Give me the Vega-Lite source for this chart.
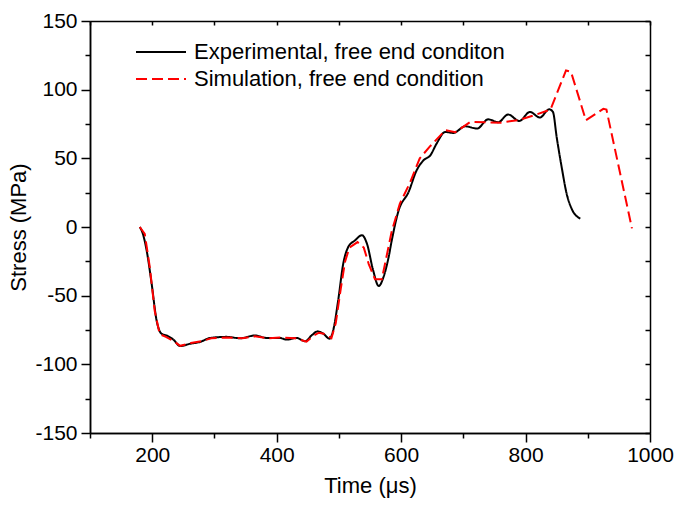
{
  "$schema": "https://vega.github.io/schema/vega-lite/v6.json",
  "width": 560,
  "height": 412,
  "autosize": {"type": "none"},
  "padding": {"left": 90, "top": 21, "right": 26, "bottom": 74},
  "background": "white",
  "config": {
    "view": {"stroke": null},
    "font": "Liberation Sans",
    "axis": {
      "grid": false,
      "domainColor": "black",
      "domainWidth": 1.5,
      "tickColor": "black",
      "tickWidth": 1.5,
      "labelColor": "black",
      "labelFontSize": 21,
      "labelFont": "Liberation Sans",
      "titleFont": "Liberation Sans",
      "titleFontSize": 22,
      "titleFontWeight": "normal",
      "titleColor": "black"
    },
    "legend": {
      "labelFont": "Liberation Sans",
      "labelFontSize": 22,
      "labelColor": "black",
      "labelLimit": 0
    }
  },
  "datasets": {
    "exp": [
      {"time": 180, "stress": 0, "series": "Experimental, free end conditon"},
      {"time": 185, "stress": -5, "series": "Experimental, free end conditon"},
      {"time": 191, "stress": -17, "series": "Experimental, free end conditon"},
      {"time": 199, "stress": -41, "series": "Experimental, free end conditon"},
      {"time": 207, "stress": -68, "series": "Experimental, free end conditon"},
      {"time": 215, "stress": -77.7, "series": "Experimental, free end conditon"},
      {"time": 223, "stress": -79, "series": "Experimental, free end conditon"},
      {"time": 234, "stress": -82, "series": "Experimental, free end conditon"},
      {"time": 245, "stress": -86.7, "series": "Experimental, free end conditon"},
      {"time": 261, "stress": -85, "series": "Experimental, free end conditon"},
      {"time": 277, "stress": -83.7, "series": "Experimental, free end conditon"},
      {"time": 293, "stress": -80.8, "series": "Experimental, free end conditon"},
      {"time": 320, "stress": -80, "series": "Experimental, free end conditon"},
      {"time": 341, "stress": -81, "series": "Experimental, free end conditon"},
      {"time": 365, "stress": -79, "series": "Experimental, free end conditon"},
      {"time": 384, "stress": -80.8, "series": "Experimental, free end conditon"},
      {"time": 405, "stress": -80.8, "series": "Experimental, free end conditon"},
      {"time": 416, "stress": -82, "series": "Experimental, free end conditon"},
      {"time": 432, "stress": -80.8, "series": "Experimental, free end conditon"},
      {"time": 446, "stress": -83.2, "series": "Experimental, free end conditon"},
      {"time": 456, "stress": -79, "series": "Experimental, free end conditon"},
      {"time": 466, "stress": -76, "series": "Experimental, free end conditon"},
      {"time": 475, "stress": -77.7, "series": "Experimental, free end conditon"},
      {"time": 485, "stress": -81.3, "series": "Experimental, free end conditon"},
      {"time": 491, "stress": -75, "series": "Experimental, free end conditon"},
      {"time": 499, "stress": -53, "series": "Experimental, free end conditon"},
      {"time": 507, "stress": -26.7, "series": "Experimental, free end conditon"},
      {"time": 515, "stress": -14.6, "series": "Experimental, free end conditon"},
      {"time": 526, "stress": -9.7, "series": "Experimental, free end conditon"},
      {"time": 537, "stress": -6, "series": "Experimental, free end conditon"},
      {"time": 545, "stress": -12, "series": "Experimental, free end conditon"},
      {"time": 555, "stress": -31.5, "series": "Experimental, free end conditon"},
      {"time": 564, "stress": -43, "series": "Experimental, free end conditon"},
      {"time": 572, "stress": -36, "series": "Experimental, free end conditon"},
      {"time": 580, "stress": -21.8, "series": "Experimental, free end conditon"},
      {"time": 585, "stress": -9.7, "series": "Experimental, free end conditon"},
      {"time": 596, "stress": 12, "series": "Experimental, free end conditon"},
      {"time": 612, "stress": 25.5, "series": "Experimental, free end conditon"},
      {"time": 625, "stress": 41.3, "series": "Experimental, free end conditon"},
      {"time": 636, "stress": 48.6, "series": "Experimental, free end conditon"},
      {"time": 647, "stress": 52.2, "series": "Experimental, free end conditon"},
      {"time": 657, "stress": 60.7, "series": "Experimental, free end conditon"},
      {"time": 671, "stress": 69.2, "series": "Experimental, free end conditon"},
      {"time": 684, "stress": 68.5, "series": "Experimental, free end conditon"},
      {"time": 703, "stress": 73.3, "series": "Experimental, free end conditon"},
      {"time": 722, "stress": 71.7, "series": "Experimental, free end conditon"},
      {"time": 740, "stress": 78.4, "series": "Experimental, free end conditon"},
      {"time": 756, "stress": 76.3, "series": "Experimental, free end conditon"},
      {"time": 772, "stress": 81.9, "series": "Experimental, free end conditon"},
      {"time": 790, "stress": 77.2, "series": "Experimental, free end conditon"},
      {"time": 807, "stress": 83.8, "series": "Experimental, free end conditon"},
      {"time": 823, "stress": 79.7, "series": "Experimental, free end conditon"},
      {"time": 838, "stress": 85.7, "series": "Experimental, free end conditon"},
      {"time": 844, "stress": 83.8, "series": "Experimental, free end conditon"},
      {"time": 850, "stress": 65.5, "series": "Experimental, free end conditon"},
      {"time": 858, "stress": 43.7, "series": "Experimental, free end conditon"},
      {"time": 866, "stress": 24.3, "series": "Experimental, free end conditon"},
      {"time": 874, "stress": 13.4, "series": "Experimental, free end conditon"},
      {"time": 888, "stress": 6.1, "series": "Experimental, free end conditon"}
    ],
    "sim": [
      {"time": 180, "stress": 0, "series": "Simulation, free end condition"},
      {"time": 188, "stress": -5, "series": "Simulation, free end condition"},
      {"time": 196, "stress": -29, "series": "Simulation, free end condition"},
      {"time": 204, "stress": -61, "series": "Simulation, free end condition"},
      {"time": 212, "stress": -78, "series": "Simulation, free end condition"},
      {"time": 222, "stress": -80, "series": "Simulation, free end condition"},
      {"time": 234, "stress": -83, "series": "Simulation, free end condition"},
      {"time": 245, "stress": -86.5, "series": "Simulation, free end condition"},
      {"time": 262, "stress": -84.5, "series": "Simulation, free end condition"},
      {"time": 280, "stress": -83, "series": "Simulation, free end condition"},
      {"time": 295, "stress": -81, "series": "Simulation, free end condition"},
      {"time": 320, "stress": -80.5, "series": "Simulation, free end condition"},
      {"time": 345, "stress": -81, "series": "Simulation, free end condition"},
      {"time": 365, "stress": -79.5, "series": "Simulation, free end condition"},
      {"time": 385, "stress": -81, "series": "Simulation, free end condition"},
      {"time": 405, "stress": -80.5, "series": "Simulation, free end condition"},
      {"time": 430, "stress": -81, "series": "Simulation, free end condition"},
      {"time": 448, "stress": -83.5, "series": "Simulation, free end condition"},
      {"time": 460, "stress": -79, "series": "Simulation, free end condition"},
      {"time": 468, "stress": -77, "series": "Simulation, free end condition"},
      {"time": 478, "stress": -78, "series": "Simulation, free end condition"},
      {"time": 488, "stress": -81, "series": "Simulation, free end condition"},
      {"time": 495, "stress": -70, "series": "Simulation, free end condition"},
      {"time": 503, "stress": -45, "series": "Simulation, free end condition"},
      {"time": 510, "stress": -25, "series": "Simulation, free end condition"},
      {"time": 517, "stress": -15, "series": "Simulation, free end condition"},
      {"time": 530, "stress": -11, "series": "Simulation, free end condition"},
      {"time": 540, "stress": -15, "series": "Simulation, free end condition"},
      {"time": 548, "stress": -27, "series": "Simulation, free end condition"},
      {"time": 558, "stress": -38, "series": "Simulation, free end condition"},
      {"time": 569, "stress": -38, "series": "Simulation, free end condition"},
      {"time": 574, "stress": -27, "series": "Simulation, free end condition"},
      {"time": 585, "stress": -3, "series": "Simulation, free end condition"},
      {"time": 598, "stress": 17, "series": "Simulation, free end condition"},
      {"time": 614, "stress": 32, "series": "Simulation, free end condition"},
      {"time": 630, "stress": 50, "series": "Simulation, free end condition"},
      {"time": 647, "stress": 59, "series": "Simulation, free end condition"},
      {"time": 671, "stress": 70.5, "series": "Simulation, free end condition"},
      {"time": 687, "stress": 69, "series": "Simulation, free end condition"},
      {"time": 711, "stress": 76.5, "series": "Simulation, free end condition"},
      {"time": 760, "stress": 76, "series": "Simulation, free end condition"},
      {"time": 790, "stress": 78, "series": "Simulation, free end condition"},
      {"time": 815, "stress": 81.5, "series": "Simulation, free end condition"},
      {"time": 840, "stress": 85.5, "series": "Simulation, free end condition"},
      {"time": 865, "stress": 114, "series": "Simulation, free end condition"},
      {"time": 873, "stress": 113, "series": "Simulation, free end condition"},
      {"time": 897, "stress": 77.7, "series": "Simulation, free end condition"},
      {"time": 925, "stress": 86, "series": "Simulation, free end condition"},
      {"time": 930, "stress": 85.5, "series": "Simulation, free end condition"},
      {"time": 971, "stress": -1, "series": "Simulation, free end condition"}
    ]
  },
  "layer": [
    {
      "data": {"name": "exp"},
      "mark": {"type": "line", "interpolate": "monotone", "strokeWidth": 2},
      "encoding": {
        "x": {
          "field": "time", "type": "quantitative",
          "scale": {"domain": [100, 1000], "nice": false, "zero": false},
          "axis": {"orient": "bottom", "values": [200, 400, 600, 800, 1000], "format": "d", "tickSize": 9, "labelPadding": 2, "title": "Time (μs)", "titlePadding": 10, "labelFlush": false}
        },
        "y": {
          "field": "stress", "type": "quantitative",
          "scale": {"domain": [-150, 150], "nice": false, "zero": false},
          "axis": {"orient": "left", "values": [-150, -100, -50, 0, 50, 100, 150], "labelExpr": "replace(datum.label, '−', '-')", "tickSize": 9, "labelPadding": 4, "title": "Stress (MPa)", "titlePadding": 4}
        },
        "color": {
          "field": "series", "type": "nominal",
          "scale": {"domain": ["Experimental, free end conditon", "Simulation, free end condition"], "range": ["black", "#ff0000"]},
          "legend": {"title": null, "orient": "none", "legendX": 35, "legendY": 20, "symbolType": "M0,0H5", "symbolSize": 400, "symbolStrokeWidth": 2, "labelOffset": 47, "rowPadding": 5, "padding": 0, "labelLimit": 0}
        },
        "strokeDash": {
          "field": "series", "type": "nominal",
          "scale": {"domain": ["Experimental, free end conditon", "Simulation, free end condition"], "range": [[1, 0], [11, 5]]},
          "legend": {"title": null, "orient": "none", "legendX": 35, "legendY": 20, "symbolType": "M0,0H5", "symbolSize": 400, "symbolStrokeWidth": 2, "labelOffset": 47, "rowPadding": 5, "padding": 0, "labelLimit": 0}
        }
      }
    },
    {
      "data": {"name": "sim"},
      "mark": {"type": "line", "strokeWidth": 2},
      "encoding": {
        "x": {
          "field": "time", "type": "quantitative",
          "axis": {"orient": "bottom", "values": [100, 300, 500, 700, 900], "tickSize": 5, "labels": false, "title": null}
        },
        "y": {
          "field": "stress", "type": "quantitative",
          "axis": {"orient": "left", "values": [-125, -75, -25, 25, 75, 125], "tickSize": 5, "labels": false, "title": null}
        },
        "color": {"field": "series", "type": "nominal"},
        "strokeDash": {"field": "series", "type": "nominal"}
      }
    },
    {
      "data": {"name": "exp"},
      "mark": {"type": "point", "opacity": 0},
      "encoding": {
        "x": {
          "field": "time", "type": "quantitative",
          "axis": {"orient": "top", "values": [100, 200, 300, 400, 500, 600, 700, 800, 900, 1000], "tickSize": -4, "labels": false, "title": null}
        },
        "y": {
          "field": "stress", "type": "quantitative",
          "axis": {"orient": "right", "values": [-150, -125, -100, -75, -50, -25, 0, 25, 50, 75, 100, 125, 150], "tickSize": -5, "labels": false, "title": null}
        }
      }
    }
  ],
  "resolve": {"axis": {"x": "independent", "y": "independent"}}
}
